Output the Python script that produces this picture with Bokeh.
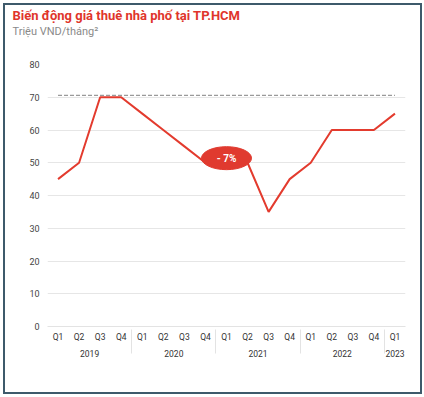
from bokeh.plotting import figure
from bokeh.models import FactorRange, Title, FixedTicker, ColumnDataSource
from bokeh.core.properties import value
from bokeh.embed import file_html
from bokeh.resources import INLINE

years = ["2019"] * 4 + ["2020"] * 4 + ["2021"] * 4 + ["2022"] * 4 + ["2023"]
quarters = ["Q1", "Q2", "Q3", "Q4"] * 4 + ["Q1"]
prices = [45, 50, 70, 70, 65, 60, 55, 50, 50, 50, 35, 45, 50, 60, 60, 60, 65]
ref_level = 70.6
y_ticks = [0, 10, 20, 30, 40, 50, 60, 70, 80]
badge_factor = ("2021", "Q1")
badge_value = 51.4
badge_text = "- 7%"

factors = list(zip(years, quarters))

p = figure(
    width=419, height=391,
    x_range=FactorRange(*factors, range_padding=0.0, factor_padding=0.0,
                        group_padding=0.0, subgroup_padding=0.0),
    y_range=(0, 80),
    output_backend="svg", toolbar_location=None,
    min_border_left=42, min_border_right=19, min_border_top=58, min_border_bottom=70,
)
p.styles = {"border": "2px solid #3e5a6b", "margin-left": "3px", "margin-top": "3px"}
p.outline_line_color = None

spacer = Title(text=" ", text_font="Roboto", text_font_size="19px", standoff=2)
p.add_layout(spacer, "above")
sub = Title(text="Triệu VND/tháng²", text_font="Roboto", text_font_size="11px",
            text_color="#8a8a8a", text_font_style="normal", offset=-35, standoff=0)
p.add_layout(sub, "above")
ttl = Title(text="Biến động giá thuê nhà phố tại TP.HCM", text_font="Roboto",
            text_font_size="13px", text_color="#e0352b", text_font_style="bold",
            offset=-35, standoff=0)
p.add_layout(ttl, "above")

src = ColumnDataSource(dict(x=factors, y=prices, ref=[ref_level] * len(factors)))
p.line("x", "ref", source=src, line_color="#9a9a9a", line_width=1.2, line_dash="4 2")
p.line("x", "y", source=src, line_color="#e33b2e", line_width=2)

bsrc = ColumnDataSource(dict(x=[badge_factor], y=[badge_value], t=[badge_text]))
p.ellipse("x", "y", source=bsrc, width=50, height=23, width_units="screen",
          height_units="screen", fill_color="#e03a2f", line_color="#e03a2f")
p.text("x", "y", text="t", source=bsrc, text_color="white", text_font=value("Roboto"),
       text_font_size="10px", text_font_style="bold", text_align="center",
       text_baseline="middle")

p.yaxis.ticker = FixedTicker(ticks=y_ticks)
p.yaxis.axis_line_color = None
p.yaxis.major_tick_line_color = None
p.yaxis.major_tick_out = 0
p.yaxis.major_tick_in = 0
p.yaxis.minor_tick_line_color = None
p.yaxis.major_label_text_font = "Roboto"
p.yaxis.major_label_text_font_size = "9px"
p.yaxis.major_label_text_color = "#444444"
p.yaxis.major_label_standoff = 8

p.xaxis.axis_line_color = "#e3e3e3"
p.xaxis.major_tick_line_color = None
p.xaxis.major_tick_out = 0
p.xaxis.major_tick_in = 0
p.xaxis.minor_tick_line_color = None
p.xaxis.major_label_text_font = "Roboto"
p.xaxis.major_label_text_font_size = "8.5px"
p.xaxis.major_label_text_color = "#333333"
p.xaxis.group_text_font = "Roboto"
p.xaxis.group_text_font_size = "8.5px"
p.xaxis.group_text_color = "#333333"
p.xaxis.group_text_font_style = "normal"
p.xaxis.separator_line_color = "#e3e3e3"
p.xaxis.separator_line_width = 1
p.xaxis.major_label_standoff = 5

p.xgrid.grid_line_color = None
p.ygrid.grid_line_color = "#e6e6e6"
p.ygrid.grid_line_width = 1

open("out.html", "w").write(file_html(p, INLINE))
